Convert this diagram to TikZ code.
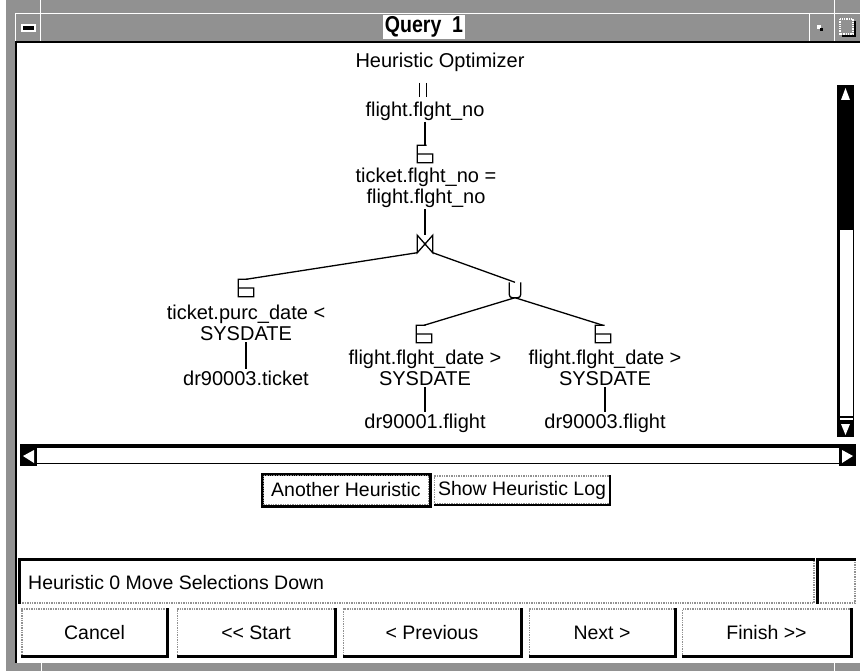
\documentclass[tikz,border=0pt]{standalone}
\usepackage{fontspec}
\setmainfont{Liberation Sans}
\newfontfamily\titlefam{Liberation Sans}[FakeStretch=0.85]
\usetikzlibrary{calc}
\definecolor{framegray}{gray}{0.57}
\newcommand\treefont{\fontsize{20}{21.5}\selectfont}
\newcommand\btnfont{\fontsize{19.5}{22}\selectfont}
\newcommand\selglyph[1]{\draw[sym] ($(#1.north west)!0.6!(#1.north east)$) -- (#1.north west) -- (#1.south west) -- (#1.south east) -- ($(#1.north east)!0.5!(#1.south east)$) -- ($(#1.north west)!0.5!(#1.south west)$);}
\newcommand\joinglyph[1]{\draw[sym] (#1.north west) -- (#1.south west) -- (#1.north east) -- (#1.south east) -- cycle;}
\newcommand\unionglyph[1]{\draw[sym,rounded corners=3pt] (#1.north west) -- (#1.south west) -- (#1.south east) -- (#1.north east);}
\tikzset{
  lbl/.style={font=\treefont, inner sep=1pt, align=center},
  symbox/.style={draw=none, inner sep=0pt, minimum width=15pt, minimum height=17pt},
  sym/.style={line width=1.3pt, line join=miter},
  edge/.style={line width=1.3pt},
  dotbox/.style={draw=framegray, densely dotted, line width=1.4pt},
  btntext/.style={font=\btnfont, inner sep=0pt},
}
\begin{document}
\begin{tikzpicture}[x=1pt,y=-1pt]
\useasboundingbox (0,0) rectangle (860,671);
\fill[white] (0,0) rectangle (860,671);
% ---- window frame ----
\fill[framegray] (6,0) rectangle (860,41);
\fill[framegray] (6,0) rectangle (15,671);
\fill[framegray] (6,663) rectangle (860,671);
\draw[white,line width=1pt] (15,13.5) -- (860,13.5);
\draw[white,line width=1pt] (15.5,13.5) -- (15.5,41);
\draw[white,line width=1pt] (40.5,0) -- (40.5,41);
\draw[white,line width=1pt] (809.5,14) -- (809.5,41);
\draw[white,line width=1pt] (834.5,0) -- (834.5,41);
\draw[white,line width=1pt] (41,663) -- (41,671);
\draw[white,line width=1pt] (834.5,663) -- (834.5,671);
\fill[black] (15,41) rectangle (860,43);
\fill[black] (15,41) rectangle (17,663);
% title
\node[fill=white, inner sep=0pt, minimum width=82pt, minimum height=24pt,
      font=\titlefam\bfseries\fontsize{23}{24}\selectfont] (title) at (424,27) {Query\ \ 1};
% title icons
\filldraw[fill=black, draw=white, line width=1.2pt] (22,25) rectangle (35,31);
\fill[white] (817,25) rectangle (821,29);
\fill[black] (820,28) rectangle (823,31);
\draw[white, densely dotted, line width=1.3pt] (840,19) rectangle (853,34);
\draw[black, line width=1.2pt] (855,21) -- (855,36) -- (842,36);
% ---- tree ----
\node[lbl] (ho) at (440,62) {Heuristic Optimizer};
\node[symbox, minimum width=6pt, minimum height=14pt] (pj) at (423,90) {};
\draw[sym] (pj.north west) -- (pj.south west);
\draw[sym] (pj.north east) -- (pj.south east);
\node[lbl] (ff1) at (425,111) {flight.flght\_no};
\node[symbox] (s1) at (425,154) {};
\selglyph{s1}
\node[lbl] (jc) at (426,188) {ticket.flght\_no =\\flight.flght\_no};
\node[symbox] (bj) at (425,244) {};
\joinglyph{bj}
\node[symbox] (s2) at (246,288) {};
\selglyph{s2}
\node[lbl] (c2) at (246,323) {ticket.purc\_date <\\SYSDATE};
\node[lbl] (t2) at (246,378) {dr90003.ticket};
\node[symbox, minimum width=11pt, minimum height=15pt] (un) at (515,290) {};
\unionglyph{un}
\node[symbox] (s3) at (424,334) {};
\selglyph{s3}
\node[lbl] (c3) at (425,368) {flight.flght\_date >\\SYSDATE};
\node[lbl] (t3) at (425,423) {dr90001.flight};
\node[symbox] (s4) at (603,334) {};
\selglyph{s4}
\node[lbl] (c4) at (605,368) {flight.flght\_date >\\SYSDATE};
\node[lbl] (t4) at (605,423) {dr90003.flight};
% connectors
\draw[edge] (ff1.south -| s1.north) -- (s1.north);
\draw[edge] (jc.south -| bj.north) -- (bj.north);
\draw[edge] (bj.south west) -- (s2.north);
\draw[edge] (bj.south east) -- (un.north);
\draw[edge] (un.south) -- (s3.north);
\draw[edge] (un.south) -- (s4.north);
\draw[edge] (c2.south) -- (t2.north);
\draw[edge] (c3.south) -- (t3.north);
\draw[edge] (c4.south) -- (t4.north);
% ---- vertical scrollbar ----
\fill[black] (837,85) rectangle (854,230);
\fill[white] (845.5,88) -- (841,100) -- (850,100) -- cycle;
\draw[black, line width=3pt] (838.5,230) -- (838.5,420);
\draw[black, line width=1.2pt] (853.4,230) -- (853.4,420);
\draw[black, line width=1.2pt] (840,417) -- (853,417);
\fill[black] (837,420) rectangle (854,437);
\fill[white] (841,424) -- (850,424) -- (845.5,435) -- cycle;
% ---- horizontal scrollbar ----
\fill[black] (20,444) rectangle (856,447.5);
\fill[black] (20,447) rectangle (37,466);
\fill[white] (23,456) -- (34,450) -- (34,463) -- cycle;
\draw[black, line width=1.2pt] (37,463.5) -- (839,463.5);
\fill[black] (839,447) rectangle (856,466);
\fill[white] (853,456) -- (842,450) -- (842,463) -- cycle;
% ---- middle buttons ----
\node[btntext, draw=black, line width=3pt, minimum width=168pt, minimum height=32pt] (bah) at (346,490) {Another Heuristic};
\draw[dotbox] ($(bah.north west)+(3,3)$) rectangle ($(bah.south east)+(-3,-3)$);
\node[btntext, dotbox, minimum width=175pt, minimum height=28pt] (bsl) at (522,490) {Show Heuristic Log};
\draw[black, line width=2pt] (bsl.north east) -- (bsl.south east) -- (bsl.south west);
% ---- status line ----
\node[dotbox, inner sep=0pt, minimum width=794pt, minimum height=43pt] (stat) at (417,581.5) {};
\draw[black, line width=3pt] (stat.south west) -- (stat.north west) -- (stat.north east);
\node[btntext, anchor=west] (stattext) at (28,583) {Heuristic 0 Move Selections Down};
\node[dotbox, inner sep=0pt, minimum width=37pt, minimum height=43pt] (stat2) at (836.5,581.5) {};
\draw[black, line width=3pt] (stat2.south west) -- (stat2.north west) -- (stat2.north east);
% ---- bottom buttons ----
\tikzset{navbtn/.style={btntext, dotbox, minimum height=47pt},
         shadow/.style={black, line width=3pt}}
\node[navbtn, minimum width=145pt] (bc) at (94.5,632.5) {Cancel};
\node[navbtn, minimum width=157pt] (bs) at (256,632.5) {{<}{<} Start};
\node[navbtn, minimum width=177pt] (bp) at (432,632.5) {< Previous};
\node[navbtn, minimum width=145pt] (bn) at (602,632.5) {Next >};
\node[navbtn, minimum width=168pt] (bf) at (766.5,632.5) {Finish {>}{>}};
\foreach \b in {bc,bs,bp,bn,bf}{
  \draw[shadow] (\b.north east) -- (\b.south east) -- (\b.south west);
}
\end{tikzpicture}
\end{document}
